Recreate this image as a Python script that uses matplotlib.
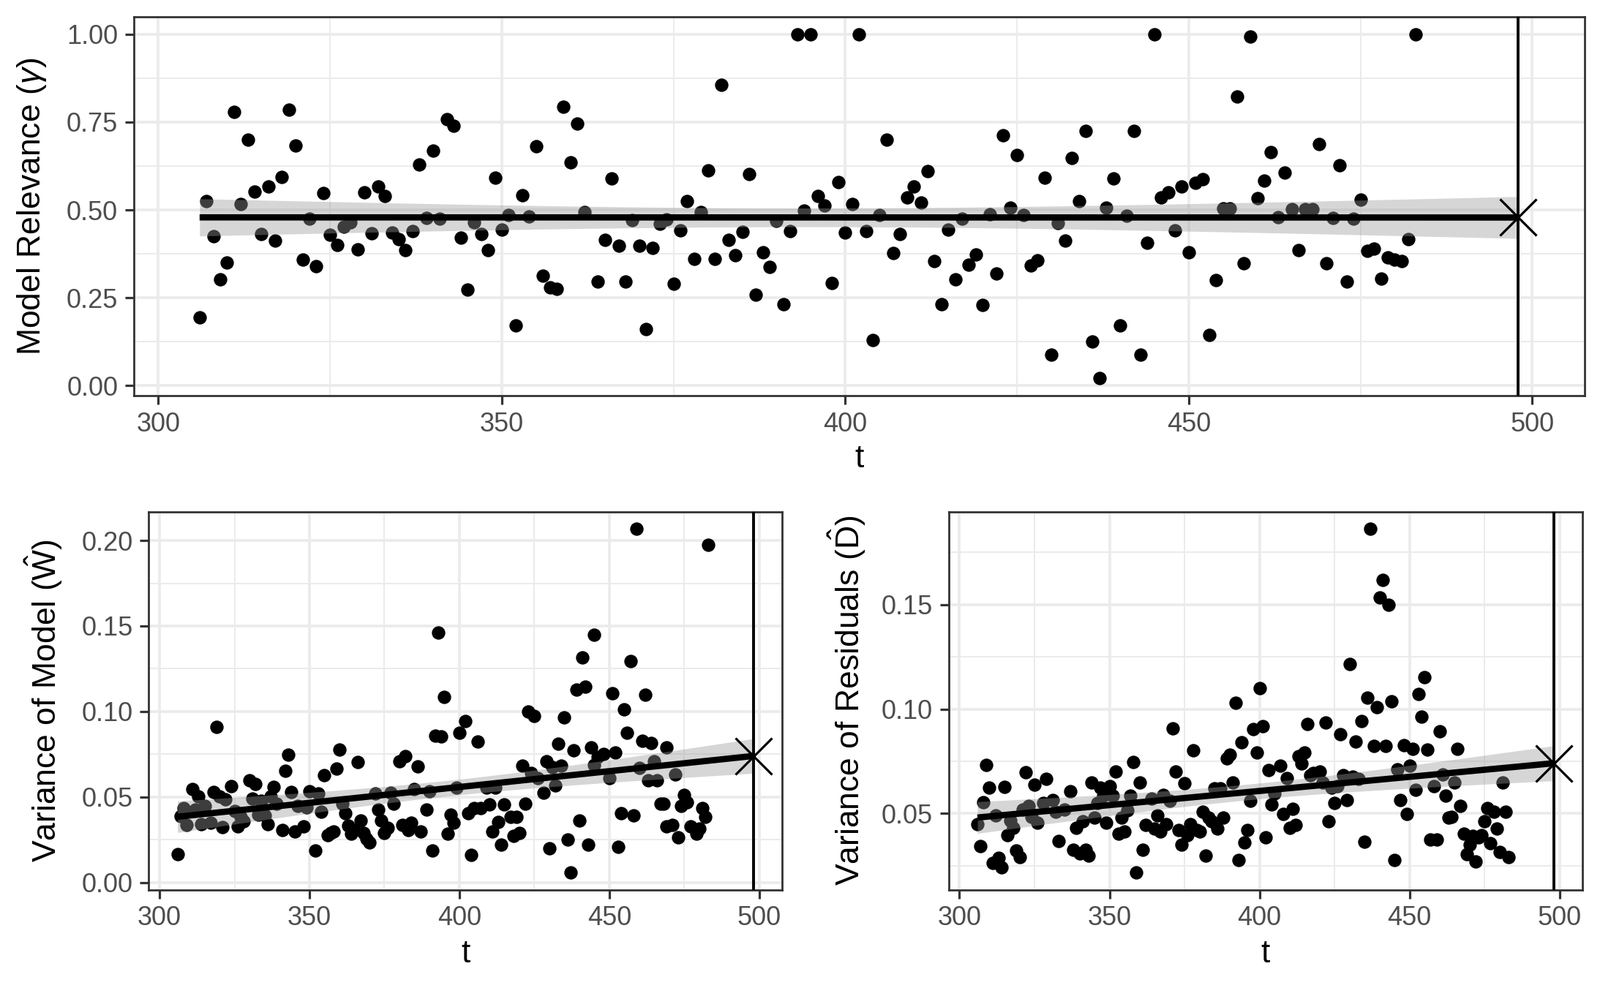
import matplotlib
matplotlib.use("Agg")
import matplotlib.pyplot as plt
import numpy as np

plt.rcParams['font.family'] = ['Liberation Sans', 'DejaVu Sans']
plt.rcParams['mathtext.fontset'] = 'custom'
plt.rcParams['mathtext.rm'] = 'Liberation Sans'
plt.rcParams['mathtext.it'] = 'Liberation Sans:italic'

# --- data ---
t_gamma = [306, 307, 308, 309, 310, 311, 312, 313, 314, 315, 316, 317, 318, 319, 320, 321, 322, 323, 324, 325,
           326, 327, 328, 329, 330, 331, 332, 333, 334, 335, 336, 337, 338, 339, 340, 341, 342, 343, 344, 345,
           346, 347, 348, 349, 350, 351, 352, 353, 354, 355, 356, 357, 358, 359, 360, 361, 362, 364, 365, 366,
           367, 368, 369, 370, 371, 372, 373, 374, 375, 376, 377, 378, 379, 380, 381, 382, 383, 384, 385, 386,
           387, 388, 389, 390, 391, 392, 393, 394, 395, 396, 397, 398, 399, 400, 401, 402, 403, 404, 405, 406,
           407, 408, 409, 410, 411, 412, 413, 414, 415, 416, 417, 418, 419, 420, 421, 422, 423, 424, 425, 426,
           427, 428, 429, 430, 431, 432, 433, 434, 435, 436, 437, 438, 439, 440, 441, 442, 443, 444, 445, 446,
           447, 448, 449, 450, 451, 452, 453, 454, 455, 456, 457, 458, 459, 460, 461, 462, 463, 464, 465, 466,
           467, 468, 469, 470, 471, 472, 473, 474, 475, 476, 477, 478, 479, 480, 481, 482, 483]
gamma = [0.193, 0.526, 0.425, 0.302, 0.351, 0.779, 0.516, 0.699, 0.552, 0.432, 0.566, 0.413, 0.593, 0.785, 0.684,
         0.359, 0.474, 0.339, 0.547, 0.430, 0.401, 0.453, 0.465, 0.387, 0.549, 0.434, 0.567, 0.539, 0.436, 0.417,
         0.385, 0.440, 0.629, 0.477, 0.668, 0.476, 0.759, 0.739, 0.421, 0.274, 0.465, 0.432, 0.385, 0.592, 0.443,
         0.486, 0.171, 0.541, 0.481, 0.682, 0.312, 0.279, 0.276, 0.794, 0.635, 0.745, 0.493, 0.295, 0.414, 0.590,
         0.398, 0.295, 0.470, 0.397, 0.161, 0.392, 0.460, 0.472, 0.290, 0.442, 0.525, 0.361, 0.493, 0.613, 0.361,
         0.856, 0.415, 0.371, 0.437, 0.603, 0.258, 0.379, 0.338, 0.469, 0.232, 0.439, 1.000, 0.497, 1.000, 0.539,
         0.512, 0.291, 0.580, 0.436, 0.517, 1.000, 0.439, 0.129, 0.486, 0.699, 0.377, 0.432, 0.535, 0.567, 0.521,
         0.611, 0.354, 0.232, 0.444, 0.302, 0.474, 0.343, 0.372, 0.229, 0.488, 0.319, 0.712, 0.507, 0.657, 0.486,
         0.342, 0.356, 0.591, 0.088, 0.463, 0.413, 0.648, 0.526, 0.724, 0.125, 0.020, 0.507, 0.590, 0.171, 0.483,
         0.724, 0.088, 0.406, 1.000, 0.535, 0.551, 0.442, 0.567, 0.379, 0.578, 0.587, 0.143, 0.300, 0.505, 0.504,
         0.823, 0.347, 0.993, 0.533, 0.583, 0.665, 0.479, 0.606, 0.503, 0.386, 0.502, 0.503, 0.688, 0.348, 0.477,
         0.627, 0.295, 0.474, 0.530, 0.383, 0.389, 0.304, 0.365, 0.359, 0.355, 0.416, 1.000]

t_w = [306, 307, 308, 309, 311, 312, 313, 314, 315, 317, 318, 319, 320, 321, 322, 324, 325, 326, 327, 328,
       330, 331, 332, 333, 334, 335, 336, 337, 338, 339, 341, 342, 343, 344, 345, 346, 348, 349, 350, 352,
       353, 354, 355, 356, 357, 358, 359, 360, 361, 362, 363, 364, 365, 366, 367, 368, 369, 370, 372, 373,
       374, 375, 376, 377, 378, 380, 381, 382, 383, 384, 385, 386, 387, 389, 390, 391, 392, 393, 394, 395,
       396, 397, 398, 399, 400, 402, 403, 404, 405, 406, 407, 409, 410, 411, 412, 413, 414, 415, 417, 418,
       419, 420, 421, 422, 423, 424, 425, 426, 428, 429, 430, 431, 432, 433, 434, 435, 436, 437, 438, 439,
       440, 441, 442, 443, 444, 445, 445, 446, 448, 450, 451, 452, 453, 454, 455, 456, 457, 458, 459, 460,
       461, 462, 463, 464, 465, 466, 467, 468, 469, 469, 471, 472, 473, 474, 475, 476, 477, 479, 480, 481,
       482, 483]
var_w = [0.0163, 0.0386, 0.0433, 0.0334, 0.0547, 0.0426, 0.0504, 0.0341, 0.0447, 0.0348, 0.0528, 0.0909, 0.0504,
         0.0322, 0.0486, 0.0561, 0.0419, 0.0327, 0.0384, 0.0358, 0.0597, 0.0490, 0.0575, 0.0398, 0.0476, 0.0391,
         0.0341, 0.0504, 0.0557, 0.0462, 0.0305, 0.0653, 0.0746, 0.0528, 0.0298, 0.0447, 0.0327, 0.0440, 0.0533,
         0.0185, 0.0518, 0.0412, 0.0625, 0.0277, 0.0291, 0.0298, 0.0665, 0.0777, 0.0462, 0.0405, 0.0330, 0.0284,
         0.0305, 0.0703, 0.0362, 0.0291, 0.0256, 0.0234, 0.0518, 0.0426, 0.0362, 0.0291, 0.0320, 0.0526, 0.0462,
         0.0710, 0.0334, 0.0739, 0.0305, 0.0348, 0.0547, 0.0679, 0.0298, 0.0426, 0.0533, 0.0185, 0.0859, 0.1463,
         0.0852, 0.1084, 0.0284, 0.0398, 0.0348, 0.0554, 0.0874, 0.0942, 0.0405, 0.0159, 0.0433, 0.0824, 0.0433,
         0.0554, 0.0455, 0.0298, 0.0554, 0.0355, 0.0220, 0.0455, 0.0384, 0.0270, 0.0384, 0.0291, 0.0682, 0.0462,
         0.1001, 0.0639, 0.0973, 0.0611, 0.0526, 0.0710, 0.0199, 0.0675, 0.0568, 0.0810, 0.0682, 0.0966, 0.0249,
         0.0057, 0.0774, 0.1129, 0.0362, 0.1314, 0.1143, 0.0220, 0.0788, 0.1449, 0.0689, 0.0732, 0.0753, 0.0611,
         0.1108, 0.0760, 0.0206, 0.0405, 0.1011, 0.0876, 0.1295, 0.0391, 0.2067, 0.0668, 0.0827, 0.1099, 0.0597,
         0.0817, 0.0710, 0.0597, 0.0462, 0.0462, 0.0791, 0.0327, 0.0334, 0.0632, 0.0263, 0.0447, 0.0511, 0.0469,
         0.0327, 0.0284, 0.0313, 0.0433, 0.0384, 0.1977]

t_d = [306, 307, 308, 309, 310, 311, 312, 313, 314, 315, 316, 317, 318, 319, 320, 321, 322, 323, 324, 325,
       326, 328, 329, 331, 332, 333, 335, 337, 338, 339, 340, 341, 342, 343, 344, 345, 346, 347, 348, 349,
       350, 351, 352, 353, 354, 355, 356, 357, 358, 359, 360, 361, 362, 364, 365, 366, 367, 368, 369, 370,
       371, 372, 373, 374, 375, 376, 377, 378, 379, 380, 381, 382, 383, 384, 385, 386, 387, 388, 389, 390,
       391, 392, 393, 394, 395, 396, 397, 398, 399, 400, 401, 402, 403, 404, 405, 407, 408, 409, 410, 411,
       412, 413, 414, 415, 416, 417, 418, 420, 421, 422, 423, 424, 425, 426, 427, 428, 429, 430, 431, 432,
       433, 434, 435, 436, 437, 438, 439, 440, 441, 442, 443, 444, 445, 446, 447, 448, 449, 450, 451, 452,
       453, 454, 455, 456, 457, 458, 459, 460, 461, 462, 463, 464, 465, 466, 467, 468, 469, 470, 471, 472,
       473, 474, 475, 476, 477, 478, 479, 480, 481, 482, 483]
var_d = [0.0450, 0.0345, 0.0555, 0.0731, 0.0624, 0.0264, 0.0491, 0.0287, 0.0241, 0.0628, 0.0398, 0.0467, 0.0433,
         0.0322, 0.0293, 0.0520, 0.0697, 0.0537, 0.0485, 0.0638, 0.0456, 0.0549, 0.0667, 0.0566, 0.0508, 0.0369,
         0.0520, 0.0607, 0.0328, 0.0433, 0.0310, 0.0462, 0.0328, 0.0299, 0.0648, 0.0479, 0.0549, 0.0624, 0.0584,
         0.0456, 0.0630, 0.0584, 0.0702, 0.0403, 0.0479, 0.0415, 0.0514, 0.0584, 0.0747, 0.0217, 0.0648, 0.0328,
         0.0444, 0.0572, 0.0427, 0.0491, 0.0415, 0.0590, 0.0450, 0.0560, 0.0909, 0.0700, 0.0421, 0.0351, 0.0644,
         0.0398, 0.0450, 0.0801, 0.0421, 0.0415, 0.0510, 0.0299, 0.0479, 0.0464, 0.0619, 0.0427, 0.0619, 0.0479,
         0.0764, 0.0781, 0.0650, 0.1031, 0.0276, 0.0840, 0.0363, 0.0421, 0.0560, 0.0903, 0.0793, 0.1101, 0.0917,
         0.0386, 0.0708, 0.0543, 0.0595, 0.0729, 0.0499, 0.0671, 0.0433, 0.0522, 0.0444, 0.0776, 0.0741, 0.0793,
         0.0929, 0.0683, 0.0694, 0.0700, 0.0648, 0.0935, 0.0462, 0.0624, 0.0549, 0.0630, 0.0880, 0.0683, 0.0566,
         0.1217, 0.0677, 0.0845, 0.0665, 0.0941, 0.0366, 0.1055, 0.1862, 0.0822, 0.1008, 0.1535, 0.1619, 0.0822,
         0.1500, 0.1037, 0.0276, 0.0712, 0.0566, 0.0828, 0.0497, 0.0729, 0.0810, 0.0613, 0.1072, 0.0962, 0.1153,
         0.0805, 0.0374, 0.0630, 0.0374, 0.0895, 0.0688, 0.0584, 0.0479, 0.0485, 0.0648, 0.0810, 0.0537, 0.0403,
         0.0305, 0.0351, 0.0392, 0.0270, 0.0386, 0.0398, 0.0462, 0.0526, 0.0357, 0.0508, 0.0429, 0.0316, 0.0648,
         0.0510, 0.0293]

t_now = 498

W, H = 2187, 1351
fig = plt.figure(figsize=(W / 100, H / 100), dpi=100)


def box(l, t, r, b):
    return [l / W, 1 - b / H, (r - l) / W, (b - t) / H]


def panel(ax, t, y, ylabel, yticks, ylabfmt, xlab_y, ylab_x):
    t = np.asarray(t, float)
    y = np.asarray(y, float)
    ax.scatter(t, y, s=175, color='black', lw=0, zorder=3)

    # linear fit with 95% band, extended to t_now
    n = len(t)
    b1, b0 = np.polyfit(t, y, 1)
    resid = y - (b0 + b1 * t)
    s = np.sqrt(np.sum(resid ** 2) / (n - 2))
    xs = np.linspace(t.min(), t_now, 100)
    fit = b0 + b1 * xs
    se = s * np.sqrt(1 / n + (xs - t.mean()) ** 2 / np.sum((t - t.mean()) ** 2))
    ax.fill_between(xs, fit - 1.973 * se, fit + 1.973 * se, color='#999999', alpha=0.4, lw=0, zorder=4)
    ax.plot(xs, fit, color='black', lw=6.2, zorder=5, solid_capstyle='butt')
    ax.axvline(t_now, color='black', lw=2.8, zorder=5)
    ax.plot([t_now], [b0 + b1 * t_now], marker='x', ms=36, mew=2.3, color='black', zorder=6)

    ax.set_xticks([300, 350, 400, 450, 500])
    ax.set_xticks([325, 375, 425, 475], minor=True)
    ax.set_yticks(yticks)
    ax.set_yticklabels([ylabfmt.format(v) for v in yticks])
    mids = [(a + b) / 2 for a, b in zip(yticks[:-1], yticks[1:])]
    ax.set_yticks(mids, minor=True)
    ax.grid(True, which='major', color='#EBEBEB', lw=2.7, zorder=0)
    ax.grid(True, which='minor', color='#EBEBEB', lw=1.4, zorder=0)
    ax.set_axisbelow(True)
    ax.tick_params(which='major', length=8.5, width=2.3, color='#333333', labelcolor='#4D4D4D',
                   labelsize=26, pad=7)
    ax.tick_params(which='minor', length=0)
    for sp in ax.spines.values():
        sp.set_color('#333333')
        sp.set_linewidth(2.0)
    ax.set_xlabel('t', fontsize=32)
    ax.set_ylabel(ylabel, fontsize=32)
    ax.xaxis.set_label_coords(0.5, xlab_y)
    ax.xaxis.label.set_va('center')
    ax.yaxis.set_label_coords(ylab_x, 0.5)
    ax.yaxis.label.set_va('center')


ax1 = fig.add_axes(box(182.7, 23.4, 2165.6, 541))
panel(ax1, t_gamma, gamma, r'Model Relevance ($\gamma$)', [0, 0.25, 0.5, 0.75, 1.0], '{:.2f}',
      -0.168, -0.07)

ax2 = fig.add_axes(box(203.3, 700, 1069, 1216.7))
panel(ax2, t_w, var_w, r'Variance of Model ($\hat{\mathrm{W}}$)', [0, 0.05, 0.10, 0.15, 0.20], '{:.2f}',
      -0.169, -0.166)

ax3 = fig.add_axes(box(1296.7, 700, 2163, 1216.7))
panel(ax3, t_d, var_d, r'Variance of Residuals ($\hat{\mathrm{D}}$)', [0.05, 0.10, 0.15], '{:.2f}',
      -0.169, -0.16)
ax3.set_yticks([0.025, 0.075, 0.125, 0.175], minor=True)

fig.savefig('out.png', dpi=100)
